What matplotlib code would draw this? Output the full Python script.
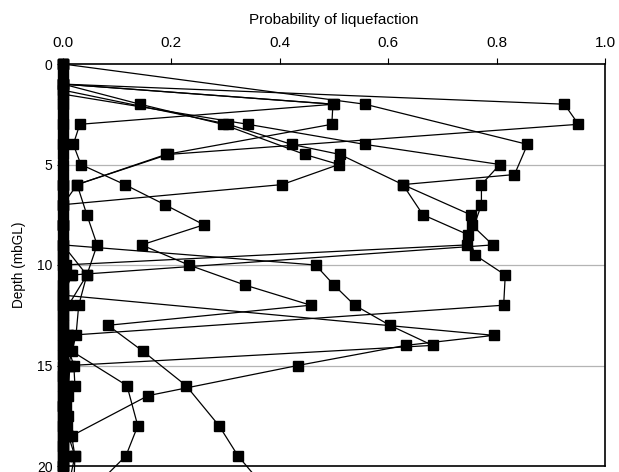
import numpy as np
import matplotlib.pyplot as plt

plt.rcParams['font.family'] = ['Liberation Sans', 'DejaVu Sans']

# Borehole profiles: depth below ground level (m) and probability of liquefaction
d_a = [0, 2, 4, 5.5, 6, 7.5, 8, 9, 10.5, 11.5, 12.5, 13.5, 14.5, 15.5, 16.5, 17.5, 18.5, 19.5, 21]
p_a = [0, 0.557, 0.857, 0.833, 0.627, 0.752, 0.754, 0.793, 0.015, 0, 0, 0, 0, 0, 0, 0, 0, 0, 0]

d_b = [1.5, 3, 4, 5, 6, 7, 9, 10, 11, 12, 13, 14, 15, 16, 17, 18, 19, 20, 21]
p_b = [0, 0.341, 0.557, 0.806, 0.772, 0.772, 0.746, 0, 0, 0, 0, 0, 0, 0, 0, 0, 0, 0, 0]

d_c = [1.0, 2, 3, 4.5, 5, 6, 7, 8, 9, 10, 11, 12, 13, 14, 15, 16, 17, 18, 19, 20, 21]
p_c = [0, 0.142, 0.295, 0.446, 0.509, 0.404, 0, 0, 0, 0.005, 0, 0, 0, 0, 0, 0, 0, 0, 0, 0, 0]

d_d = [1.0, 2, 3, 4.5, 6, 7.5, 9, 10.5, 12, 13.5, 15, 16.5, 18, 19.5, 21]
p_d = [0, 0.498, 0.496, 0.19, 0.026, 0.044, 0.063, 0.044, 0.029, 0.024, 0.01, 0.01, 0.008, 0.01, 0.01]

d_e = [1.0, 2, 3, 4.5, 6, 7, 8, 9.5, 10.5, 11.5, 12.5, 14, 15.5, 17, 18.5, 20, 21]
p_e = [0, 0.925, 0.951, 0.194, 0.026, 0, 0, 0, 0.017, 0, 0, 0.01, 0, 0, 0.01, 0, 0]

d_f = [1.3, 3, 4, 4.5, 6, 7.5, 8.5, 9.5, 10.5, 12, 13.5, 14.5, 15.5, 16.5, 17.5, 18.5, 19.5, 21]
p_f = [0, 0.305, 0.422, 0.511, 0.627, 0.664, 0.748, 0.76, 0.816, 0.813, 0.01, 0, 0, 0, 0, 0, 0, 0]

d_g = [1.0, 2, 3, 4, 5, 6, 7, 8, 9, 10, 11, 12, 13, 14.3, 16, 18, 19.5, 21]
p_g = [0, 0.5, 0.031, 0.019, 0.033, 0.114, 0.188, 0.26, 0.145, 0.232, 0.336, 0.457, 0.083, 0.148, 0.227, 0.288, 0.323, 0.37]

d_h = [0, 1, 2, 3, 4, 5, 6, 7, 8, 9, 10, 11, 12, 13, 14, 15, 16, 17, 18, 19, 20, 21]
p_h = [0, 0, 0, 0, 0, 0, 0, 0, 0, 0, 0.466, 0.5, 0.538, 0.603, 0.682, 0.013, 0.01, 0, 0, 0, 0, 0]

d_i = [0.5, 1.5, 2.5, 3.5, 4.5, 5.5, 6.5, 7.5, 8.5, 9.5, 10.5, 11.5, 13.5, 14, 15, 16.5, 18.5, 19.5, 21]
p_i = [0, 0, 0, 0, 0, 0, 0, 0, 0, 0, 0, 0, 0.795, 0.632, 0.433, 0.157, 0.016, 0.022, 0.01]

d_k = [0, 2, 4, 6, 8, 10, 12, 13.5, 14.3, 16, 18, 19.5, 21]
p_k = [0, 0, 0, 0, 0, 0, 0, 0, 0.017, 0.118, 0.138, 0.116, 0.06]

d_m = [0, 3, 6, 9, 10.5, 12, 13.5, 14, 15, 16, 17, 17.5, 18.5, 19.5, 21]
p_m = [0, 0, 0, 0, 0.044, 0.01, 0.01, 0.008, 0.02, 0.022, 0.005, 0.01, 0.01, 0.022, 0.02]

profiles = [(p_a, d_a), (p_b, d_b), (p_c, d_c), (p_d, d_d), (p_e, d_e), (p_f, d_f),
            (p_g, d_g), (p_h, d_h), (p_i, d_i), (p_k, d_k), (p_m, d_m)]

fig = plt.figure(figsize=(6.19, 4.72), dpi=100)
ax = fig.add_axes([63 / 619, 1 - 466 / 472, 542 / 619, 402 / 472])

for p, d in profiles:
    ax.plot(p, d, color='black', linewidth=0.9, marker='s', markersize=6.5,
            markerfacecolor='black', markeredgecolor='black', clip_on=False, zorder=3)

ax.set_xlim(0, 1.0)
ax.set_ylim(20, 0)
ax.xaxis.tick_top()
ax.xaxis.set_label_position('top')
ax.set_xticks(np.arange(0, 1.01, 0.2))
ax.set_xticklabels(['0.0', '0.2', '0.4', '0.6', '0.8', '1.0'])
ax.set_yticks([0, 5, 10, 15, 20])
ax.tick_params(direction='out', length=4, width=0.8)
ax.tick_params(axis='x', labelsize=11, pad=6)
ax.tick_params(axis='y', labelsize=10)
ax.set_xlabel('Probability of liquefaction', fontsize=11, labelpad=9)
ax.set_ylabel('Depth (mbGL)', fontsize=9.8, labelpad=8)

for y in [5, 10, 15]:
    ax.axhline(y, color='#b4b4b4', linewidth=0.9, zorder=1)

for s in ax.spines.values():
    s.set_linewidth(1.2)

fig.savefig('out.png', dpi=100)
